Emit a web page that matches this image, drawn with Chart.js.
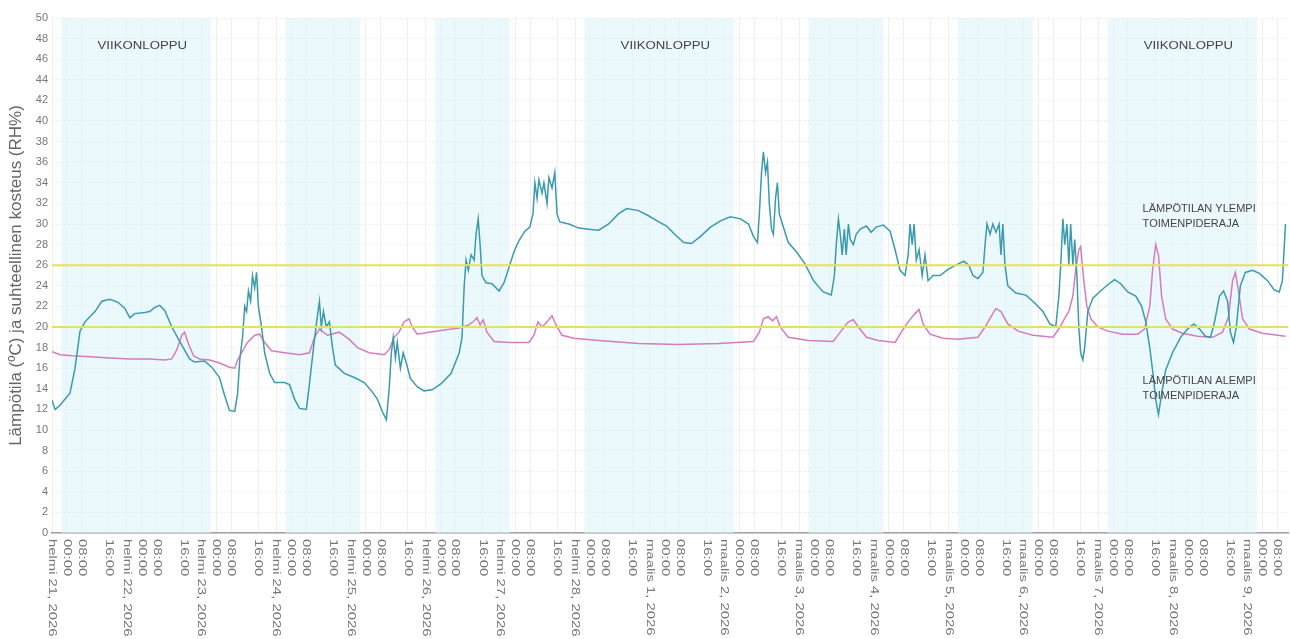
<!DOCTYPE html>
<html>
<head>
<meta charset="utf-8">
<script src="https://cdn.jsdelivr.net/npm/chart.js@4/dist/chart.umd.min.js"></script>
<style>
html, body { margin: 0; padding: 0; background: #fff; }
#wrap { width: 1290px; height: 639px; }
</style>
</head>
<body>
<div id="wrap"><canvas id="chart" width="1290" height="639"></canvas></div>
<script>
// Aika tunteina alkaen helmi 21, 2026 00:00
const humidityHours = [0, 1, 2.6, 5.8, 7.4, 9, 10.6, 13.8, 16, 18.6, 21.2, 23.4, 25, 26.6, 29.8, 31.4, 33, 34.6, 36.2, 38.5, 41, 44.2, 45.8, 49, 51.3, 53.8, 55.4, 57, 58.7, 59.6, 60.3, 61.2, 61.9, 62.5, 63.1, 63.8, 64.4, 65.1, 65.7, 66.3, 67.3, 68.3, 69.9, 71.5, 74.7, 76.3, 77.9, 79.5, 81.7, 82.7, 84, 85, 85.9, 86.5, 87.2, 88.1, 89.1, 90.1, 91, 93.9, 97.1, 100.3, 102.6, 104.5, 106.1, 107.4, 108.3, 109, 109.6, 110.3, 110.9, 111.9, 112.8, 113.8, 115.1, 117.3, 119.5, 122.1, 125, 128.2, 130.8, 131.7, 132.4, 133, 133.7, 134.6, 135.6, 136.2, 136.9, 137.5, 138.1, 139.4, 141.3, 143.6, 145.2, 146.8, 148.4, 150, 151.9, 153.5, 154.5, 155.1, 155.8, 156.4, 157.4, 158, 159, 159.6, 160.6, 161.5, 162.2, 163.1, 166, 169.2, 172.4, 175.6, 178.8, 182, 184.6, 188.4, 191.6, 194.9, 197.4, 200, 202.9, 205.4, 208.3, 211.5, 214.7, 217.9, 221.2, 223.7, 225.3, 226.6, 227.2, 227.9, 228.5, 229.2, 229.8, 230.4, 231.1, 231.7, 232.4, 233, 233.6, 234.6, 236.5, 239.1, 241.7, 244.6, 247.7, 250.3, 251.3, 251.9, 252.6, 253.2, 253.8, 254.5, 255.1, 255.8, 256.4, 257.4, 258.3, 259.6, 261.6, 263.1, 264.7, 267, 269.2, 270.8, 272.4, 274, 275, 275.6, 276.3, 276.9, 277.6, 278.5, 279.5, 280.4, 281.4, 283, 285.2, 287.8, 290.3, 292.9, 294.5, 295.8, 297.4, 299, 299.7, 300.3, 301.3, 302.2, 303.2, 304.2, 304.8, 305.4, 306.1, 307, 309.6, 312.8, 315.4, 318.3, 320.5, 322.4, 323.4, 324, 324.7, 325.3, 326, 326.6, 327.2, 327.9, 328.5, 329.2, 329.8, 330.4, 331.1, 331.7, 332.7, 334.3, 336.8, 339.1, 341.3, 343.3, 345.5, 348.1, 350, 351.3, 352.6, 353.5, 354.5, 355.4, 356.4, 357.7, 359.9, 362.5, 364.7, 366.7, 368.6, 370.5, 372.1, 373.4, 375, 376.3, 377.6, 378.5, 379.5, 380.4, 381.7, 383.3, 385.6, 387.8, 390.4, 392.6, 394.2, 395.2, 396.2];
const humidityValues = [12.9, 12.0, 12.4, 13.6, 16.0, 19.6, 20.5, 21.5, 22.5, 22.7, 22.4, 21.8, 20.9, 21.3, 21.4, 21.5, 21.9, 22.1, 21.6, 20.0, 18.6, 16.9, 16.6, 16.7, 16.1, 15.1, 13.4, 11.9, 11.8, 13.5, 16.8, 19, 22, 21.5, 23.5, 22.5, 25, 23.8, 25.3, 22, 20, 17.5, 15.5, 14.6, 14.6, 14.4, 13, 12.1, 12.0, 14.5, 18, 20.5, 22.5, 20, 21.5, 20, 20.5, 18, 16.3, 15.5, 15.1, 14.6, 13.8, 13, 11.8, 11.0, 14, 17.5, 19, 17, 18.5, 16, 17.5, 16.5, 15, 14.2, 13.8, 13.9, 14.5, 15.5, 17.5, 19, 24, 26.5, 25.5, 27, 26.5, 29, 30.5, 28, 25, 24.3, 24.2, 23.5, 24.3, 25.8, 27.3, 28.4, 29.3, 29.7, 31, 34, 32.5, 34.3, 33, 34, 32, 34.5, 33.5, 35, 31, 30.2, 30, 29.6, 29.5, 29.4, 30, 31, 31.5, 31.3, 30.8, 30.2, 29.8, 29, 28.2, 28.1, 28.8, 29.7, 30.3, 30.7, 30.5, 30, 28.8, 28.2, 31, 35, 37, 35, 36, 32, 29.5, 29, 32.5, 34, 31, 30, 28.2, 27.3, 26.2, 24.5, 23.4, 23.1, 25, 28, 30.5, 29, 27, 29.5, 27, 30, 28.5, 28, 29, 29.5, 29.8, 29.2, 29.7, 29.9, 29.3, 27.5, 25.5, 25, 27, 30, 28, 30, 26.5, 27.5, 25, 27, 24.5, 25, 25, 25.6, 26, 26.4, 26, 25, 24.7, 25.3, 28, 30, 29, 30, 29.2, 30, 27, 30, 26, 24, 23.3, 23.1, 22.4, 21.5, 20.3, 20, 23, 26, 30.5, 28, 30, 26, 30, 26, 28.5, 25, 20, 17.5, 16.8, 18, 21.5, 22.8, 23.5, 24.1, 24.6, 24.2, 23.4, 23, 22, 20.5, 18, 15.8, 13, 11.5, 13.5, 15.8, 17.5, 19, 19.8, 20.3, 19.8, 19.1, 19, 20.5, 23, 23.5, 22.5, 19.5, 18.5, 20, 24, 25.3, 25.5, 25.2, 24.5, 23.6, 23.4, 24.5, 30];

const temperatureHours = [0, 2.6, 6.4, 12.2, 18.6, 25, 31.4, 36.2, 38.5, 40.1, 41.7, 42.6, 43.9, 45.5, 47.4, 50.6, 53.8, 57, 58.7, 59.6, 60.9, 62.8, 65.1, 66.7, 68.3, 70.5, 74.7, 79.5, 82.7, 84.3, 85.9, 88.5, 92.3, 95.5, 98.1, 101.9, 106.7, 108.3, 109.9, 111.5, 113.1, 114.7, 115.7, 117.3, 121.2, 126, 130.8, 133.9, 135.6, 136.5, 137.5, 138.5, 139.7, 142, 146.8, 153.2, 154.8, 156.1, 157.4, 159, 160.6, 161.9, 163.8, 167.6, 175.6, 188.4, 201.3, 214.1, 225.3, 227.2, 228.5, 230.1, 231.4, 232.7, 233.9, 236.5, 242.9, 250.9, 253.2, 255.8, 257.4, 259, 261.6, 265.4, 270.8, 272.8, 275, 277.2, 278.5, 279.8, 282, 286.2, 291, 297.4, 299.7, 301.6, 303.2, 304.8, 307, 310.3, 315.1, 321.5, 323.4, 325, 326.6, 327.9, 328.8, 329.8, 330.4, 331.4, 332.4, 333.7, 335.9, 339.1, 343.9, 348.7, 350.9, 352.6, 353.5, 354.5, 355.4, 356.4, 357.7, 359.9, 363.1, 367.9, 372.8, 376, 377.9, 379.2, 380.1, 381.1, 382.4, 384.6, 388.8, 393.6, 396.2];
const temperatureValues = [17.6, 17.3, 17.2, 17.1, 17, 16.9, 16.9, 16.8, 16.9, 17.8, 19.2, 19.5, 18.3, 17.2, 16.9, 16.8, 16.5, 16.1, 16.0, 16.8, 17.5, 18.5, 19.2, 19.3, 18.5, 17.7, 17.5, 17.3, 17.5, 19, 19.8, 19.2, 19.5, 18.8, 18, 17.5, 17.3, 17.8, 19, 19.5, 20.5, 20.8, 20, 19.3, 19.5, 19.7, 19.9, 20.2, 20.6, 20.9, 20.2, 20.7, 19.5, 18.6, 18.5, 18.5, 19.2, 20.5, 20, 20.5, 21.1, 20.2, 19.2, 18.9, 18.7, 18.4, 18.3, 18.4, 18.6, 19.5, 20.8, 21, 20.6, 21, 20, 19, 18.7, 18.6, 19.5, 20.5, 20.7, 20, 19, 18.7, 18.5, 19.5, 20.5, 21.3, 21.7, 20.3, 19.3, 18.9, 18.8, 19, 20, 21, 21.8, 21.5, 20.3, 19.6, 19.2, 19, 19.8, 20.7, 21.5, 23, 25.5, 27.5, 27.8, 24.5, 22, 20.8, 20, 19.6, 19.3, 19.3, 19.8, 22, 25.5, 28, 27, 23, 20.8, 19.8, 19.4, 19.1, 19, 19.5, 21, 24.5, 25.3, 23.5, 20.8, 19.8, 19.4, 19.2, 19.1];

// Toimenpiderajat
const upperLimit = 26;
const lowerLimit = 20;

// Korostetut jaksot (alku, loppu tunteina)
const bandStarts = [3, 75, 123, 171, 243, 291, 339];
const bandEnds = [51, 99, 147, 219, 267, 315, 387];
const bandTexts = ['VIIKONLOPPU', '', '', 'VIIKONLOPPU', '', '', 'VIIKONLOPPU'];

// X-akselin merkinnät
const dayNames = ['helmi 21, 2026', 'helmi 22, 2026', 'helmi 23, 2026', 'helmi 24, 2026', 'helmi 25, 2026',
  'helmi 26, 2026', 'helmi 27, 2026', 'helmi 28, 2026', 'maalis 1, 2026', 'maalis 2, 2026', 'maalis 3, 2026',
  'maalis 4, 2026', 'maalis 5, 2026', 'maalis 6, 2026', 'maalis 7, 2026', 'maalis 8, 2026', 'maalis 9, 2026'];
const hourLabels = ['00:00', '08:00', '16:00'];
const hourOffsets = [4.8, 9.6, 18.3];

const tickValues = [];
const tickTexts = [];
dayNames.forEach((d, i) => {
  tickValues.push(i * 24); tickTexts.push(d);
  hourOffsets.forEach((o, j) => {
    if (i * 24 + o <= 397) { tickValues.push(i * 24 + o); tickTexts.push(hourLabels[j]); }
  });
});

const FONT = '"Liberation Sans", Arial, sans-serif';

// Taustajaksot ja tekstit
const bandsPlugin = {
  id: 'bands',
  beforeDatasetsDraw(chart) {
    const { ctx, chartArea, scales } = chart;
    ctx.save();
    ctx.fillStyle = 'rgba(224, 245, 250, 0.6)';
    bandStarts.forEach((s, i) => {
      const x1 = scales.x.getPixelForValue(s);
      const x2 = scales.x.getPixelForValue(bandEnds[i]);
      ctx.fillRect(x1, chartArea.top, x2 - x1, chartArea.bottom - chartArea.top);
    });
    ctx.fillStyle = '#444';
    ctx.font = '11px ' + FONT;
    ctx.textAlign = 'center';
    ctx.textBaseline = 'middle';
    bandStarts.forEach((s, i) => {
      if (!bandTexts[i]) return;
      const x = scales.x.getPixelForValue((s + bandEnds[i]) / 2 + 2);
      ctx.save();
      ctx.translate(x, scales.y.getPixelForValue(47.3));
      ctx.scale(1.2, 1);
      ctx.fillText(bandTexts[i], 0, 0);
      ctx.restore();
    });
    ctx.restore();
  },
  afterDraw(chart) {
    const { ctx, chartArea, scales } = chart;
    ctx.save();
    // rajojen tekstit
    ctx.fillStyle = '#444';
    ctx.font = '11px ' + FONT;
    ctx.textAlign = 'left';
    ctx.textBaseline = 'middle';
    const lx = scales.x.getPixelForValue(350.3);
    ctx.fillText('LÄMPÖTILAN YLEMPI', lx, scales.y.getPixelForValue(31.5));
    ctx.fillText('TOIMENPIDERAJA', lx, scales.y.getPixelForValue(30));
    ctx.fillText('LÄMPÖTILAN ALEMPI', lx, scales.y.getPixelForValue(14.8));
    ctx.fillText('TOIMENPIDERAJA', lx, scales.y.getPixelForValue(13.3));
    // x-akselin merkinnät ylhäältä alas
    ctx.fillStyle = '#777';
    ctx.font = '11px ' + FONT;
    tickValues.forEach((v, i) => {
      const x = scales.x.getPixelForValue(v);
      ctx.save();
      ctx.translate(x, chartArea.bottom + 6);
      ctx.rotate(Math.PI / 2);
      ctx.scale(1.35, 1);
      ctx.fillText(tickTexts[i], 0, 0);
      ctx.restore();
    });
    ctx.restore();
  }
};

const ctx = document.getElementById('chart').getContext('2d');
new Chart(ctx, {
  type: 'line',
  data: {
    datasets: [{
      data: humidityHours.map((h, i) => ({ x: h, y: humidityValues[i] })),
      borderColor: '#3a9aae',
      borderWidth: 1.5,
      pointRadius: 0,
      tension: 0,
      order: 2
    }, {
      data: temperatureHours.map((h, i) => ({ x: h, y: temperatureValues[i] })),
      borderColor: '#d57cbf',
      borderWidth: 1.5,
      pointRadius: 0,
      tension: 0,
      order: 3
    }, {
      data: [{ x: 0, y: upperLimit }, { x: 397, y: upperLimit }],
      borderColor: '#e4e25c',
      borderWidth: 2,
      pointRadius: 0,
      order: 1
    }, {
      data: [{ x: 0, y: lowerLimit }, { x: 397, y: lowerLimit }],
      borderColor: '#e4e25c',
      borderWidth: 2,
      pointRadius: 0,
      order: 1
    }]
  },
  options: {
    responsive: false,
    animation: false,
    layout: { padding: { top: 18, right: 2, bottom: 106, left: 6 } },
    scales: {
      x: {
        type: 'linear',
        min: 0,
        max: 397,
        afterBuildTicks: s => { s.ticks = tickValues.map(v => ({ value: v })); },
        ticks: { display: false },
        grid: { color: '#efefef', tickLength: 0 },
        border: { display: true, color: '#a0a0a0', width: 1.5 }
      },
      y: {
        min: 0,
        max: 50,
        afterFit: s => { s.width = 46; },
        ticks: { stepSize: 2, color: '#777', font: { size: 11, family: FONT }, padding: 4 },
        grid: { color: '#ececec', tickLength: 0 },
        border: { display: false, dash: [2, 2] },
        title: {
          display: true,
          text: 'Lämpötila (ºC) ja suhteellinen kosteus (RH%)',
          color: '#666',
          font: { size: 17, family: FONT },
          padding: 0
        }
      }
    },
    plugins: {
      legend: { display: false },
      tooltip: { enabled: false }
    }
  },
  plugins: [bandsPlugin]
});
</script>
</body>
</html>
